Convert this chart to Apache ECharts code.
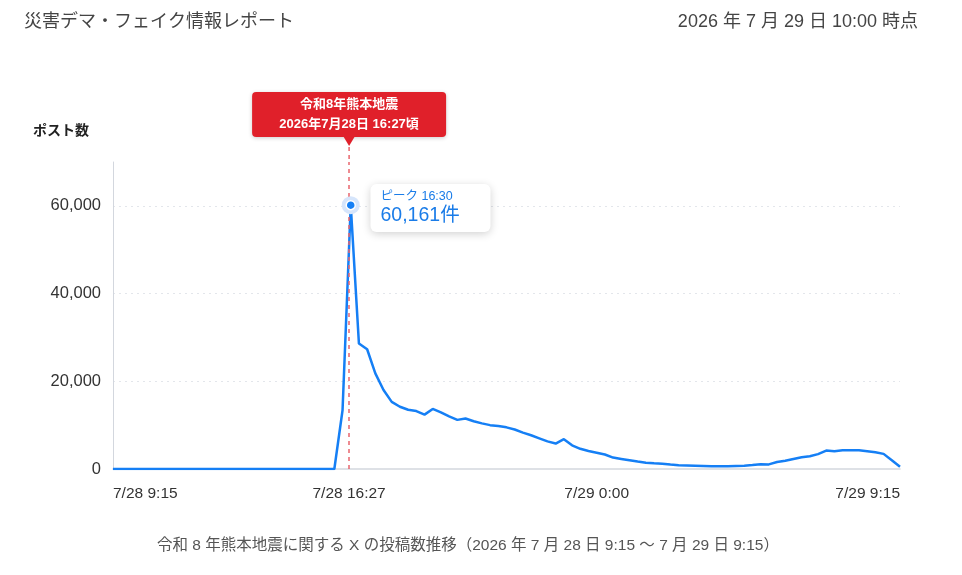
<!DOCTYPE html>
<html>
<head>
<meta charset="utf-8">
<script src="https://cdn.jsdelivr.net/npm/echarts@6/dist/echarts.min.js"></script>
<style>
  html, body { margin: 0; padding: 0; background: #fff; }
  #chart { width: 962px; height: 575px; }
</style>
</head>
<body>
<div id="chart"></div>
<script>
// minutes since 7/28 9:15, one point every 15 minutes
const stepMinutes = 15;
const postCounts = [
  0, 0, 0, 0, 0, 0, 0, 0, 0, 0, 0, 0, 0, 0, 0, 0, 0, 0, 0, 0, 0, 0, 0, 0, 0, 0, 0, 0,
  13400, 60161, 28600, 27300,
  21800, 18000, 15300, 14200,
  13500, 13200, 12400, 13700,
  12900, 12000, 11200, 11500,
  10900, 10400, 10000, 9800,
  9500, 9000, 8300, 7700,
  7000, 6300, 5800, 6800,
  5400, 4600, 4100, 3700,
  3300, 2600, 2300, 2000,
  1700, 1450, 1300, 1200,
  1000, 850, 800, 750,
  700, 650, 650, 650,
  700, 750, 900, 1100,
  1050, 1600, 1900, 2300,
  2700, 2900, 3400, 4200,
  4050, 4250, 4300, 4250,
  4050, 3800, 3450, 2000,
  500
];
const xTickMinutes = [0, 432, 885, 1440];
const xTickLabels = ['7/28 9:15', '7/28 16:27', '7/29 0:00', '7/29 9:15'];
const yTicks = [0, 20000, 40000, 60000];
const quakeMinute = 432;
const quakeLines = ['令和8年熊本地震', '2026年7月28日 16:27頃'];

const FONT = '"Liberation Sans", "Noto Sans CJK JP", sans-serif';

const seriesData = postCounts.map((v, i) => [i * stepMinutes, v]);
const peakValue = Math.max(...postCounts);
const peakIndex = postCounts.indexOf(peakValue);
const peakMinute = peakIndex * stepMinutes;

const chart = echarts.init(document.getElementById('chart'));

const option = {
  animation: false,
  textStyle: { fontFamily: FONT },
  title: [
    {
      text: '災害デマ・フェイク情報レポート',
      left: 19, top: 8,
      textStyle: { fontSize: 18, fontWeight: 'normal', color: '#444', fontFamily: FONT }
    },
    {
      text: '2026 年 7 月 29 日 10:00 時点',
      right: 39, top: 8,
      textStyle: { fontSize: 18, fontWeight: 'normal', color: '#444', fontFamily: FONT }
    },
    {
      text: '令和 8 年熊本地震に関する X の投稿数推移（2026 年 7 月 28 日 9:15 〜 7 月 29 日 9:15）',
      left: 152, top: 533,
      textStyle: { fontSize: 15.5, fontWeight: 'normal', color: '#555', fontFamily: FONT }
    },
    {
      text: 'ポスト数',
      left: 28, top: 119,
      textStyle: { fontSize: 14, fontWeight: 'bold', color: '#222', fontFamily: FONT }
    }
  ],
  grid: { left: 113, right: 62, top: 162, bottom: 106 },
  xAxis: {
    type: 'value',
    min: 0,
    max: 1440,
    axisLine: { show: true, lineStyle: { color: '#d3d7de', width: 1.5 } },
    axisTick: { show: false },
    splitLine: { show: false },
    axisLabel: {
      customValues: xTickMinutes,
      margin: 17,
      fontSize: 15.5,
      color: '#333',
      alignMinLabel: 'left',
      alignMaxLabel: 'right',
      formatter: (v) => xTickLabels[xTickMinutes.indexOf(v)]
    }
  },
  yAxis: {
    type: 'value',
    min: 0,
    max: 70000,
    interval: 20000,
    axisLine: { show: true, lineStyle: { color: '#d3d7de' } },
    axisTick: { show: false },
    axisLabel: {
      customValues: yTicks,
      margin: 12,
      fontSize: 16.5,
      color: '#333',
      formatter: (v) => v.toLocaleString('en-US')
    },
    splitLine: {
      show: true,
      showMinLine: false,
      showMaxLine: false,
      lineStyle: { color: '#e3e6eb', type: [2, 4] }
    }
  },
  series: [
    {
      type: 'line',
      data: seriesData,
      showSymbol: false,
      lineStyle: { color: '#157ff5', width: 2.5 },
      itemStyle: { color: '#157ff5' },
      markLine: {
        silent: true,
        symbol: 'none',
        label: { show: false },
        lineStyle: { color: '#e9666d', type: [4, 4], width: 1.5 },
        data: [{ xAxis: quakeMinute }]
      },
      markPoint: {
        silent: true,
        data: [
          {
            coord: [peakMinute, peakValue],
            symbol: 'circle',
            symbolSize: 18,
            itemStyle: { color: '#d6e5fb' },
            label: { show: false }
          },
          {
            coord: [peakMinute, peakValue],
            symbol: 'circle',
            symbolSize: 9,
            itemStyle: { color: '#157ff5', borderColor: '#fff', borderWidth: 1.5 },
            label: {
              show: true,
              position: [25, -16],
              align: 'left',
              verticalAlign: 'top',
              backgroundColor: '#fff',
              borderRadius: 6,
              padding: [5, 12, 5, 10],
              width: 98,
              shadowColor: 'rgba(0,0,0,0.18)',
              shadowBlur: 8,
              shadowOffsetY: 2,
              formatter: '{a|ピーク 16:30}\n{b|' + peakValue.toLocaleString('en-US') + '件}',
              rich: {
                a: { fontSize: 12.5, color: '#1a7ce8', lineHeight: 16, fontFamily: FONT },
                b: { fontSize: 19.5, color: '#1a7ce8', lineHeight: 22, fontFamily: FONT }
              }
            }
          }
        ]
      }
    }
  ]
};

chart.setOption(option);

// red annotation box above the quake time, placed via the axis scale
const qx = chart.convertToPixel({ xAxisIndex: 0 }, quakeMinute);
const gridTop = chart.convertToPixel({ yAxisIndex: 0 }, 70000);
const boxW = 194, boxH = 45, tipY = 147, boxBottom = 137;

chart.setOption({
  graphic: [
    {
      type: 'line',
      silent: true,
      shape: { x1: qx, y1: tipY, x2: qx, y2: gridTop },
      style: { stroke: '#e9666d', lineWidth: 1.5, lineDash: [4, 4] }
    },
    {
      type: 'rect',
      silent: true,
      shape: { x: qx - boxW / 2, y: boxBottom - boxH, width: boxW, height: boxH, r: 4 },
      style: { fill: '#e0202a', shadowColor: 'rgba(0,0,0,0.2)', shadowBlur: 4, shadowOffsetY: 1 }
    },
    {
      type: 'polygon',
      silent: true,
      shape: { points: [[qx - 6, boxBottom - 1], [qx + 6, boxBottom - 1], [qx, tipY - 1]] },
      style: { fill: '#e0202a' }
    },
    {
      type: 'text',
      silent: true,
      x: qx,
      y: boxBottom - boxH / 2,
      style: {
        text: quakeLines.join('\n'),
        fill: '#fff',
        font: 'bold 13px ' + FONT,
        lineHeight: 20,
        align: 'center',
        verticalAlign: 'middle'
      }
    }
  ]
});
</script>
</body>
</html>
